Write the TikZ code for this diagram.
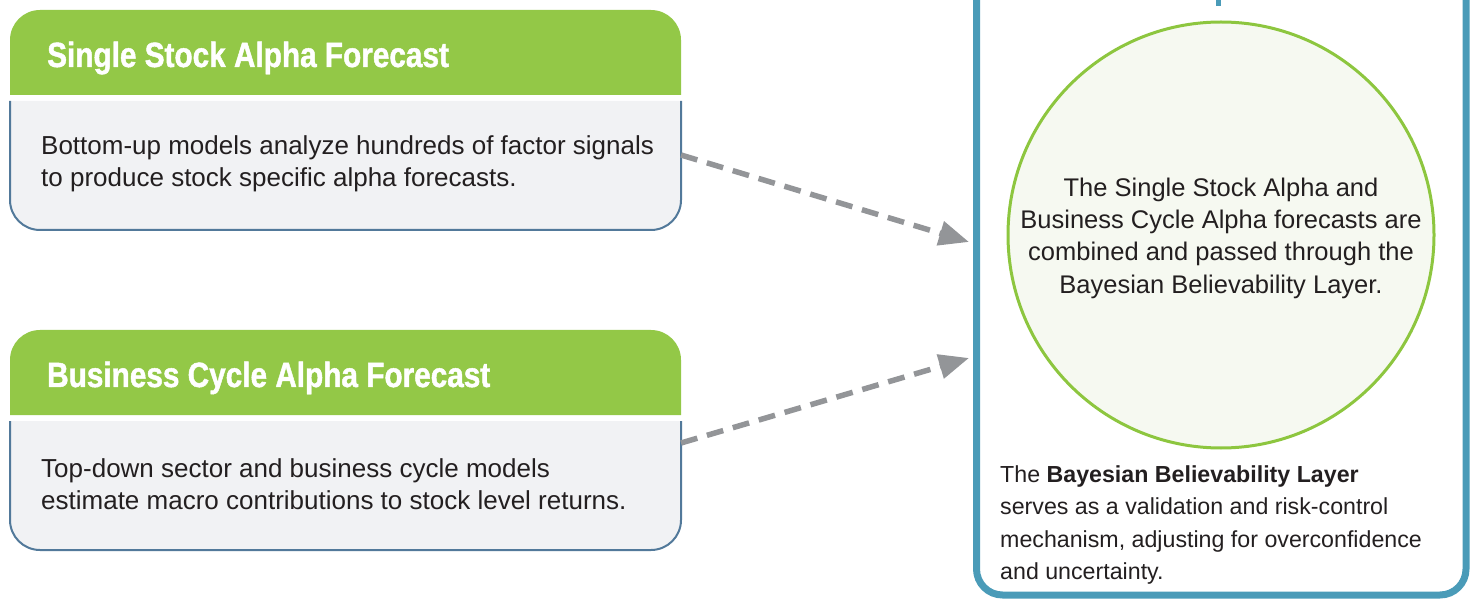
\documentclass[tikz,border=0pt]{standalone}
\usepackage{fontspec}
\setmainfont{Liberation Sans}
\newfontfamily\headfont[FakeStretch=0.85, BoldFeatures={FakeBold=1.3}]{Liberation Sans}
\usetikzlibrary{arrows.meta}

\definecolor{leafgreen}{HTML}{93C847}
\definecolor{ringgreen}{HTML}{8DC63F}
\definecolor{palegreen}{HTML}{F6F9F1}
\definecolor{panelgray}{HTML}{F1F2F4}
\definecolor{slateedge}{HTML}{52799A}
\definecolor{tealframe}{HTML}{4A9BB8}
\definecolor{arrowgray}{HTML}{939598}
\definecolor{inkdark}{HTML}{231F20}

\tikzstyle{headtext}=[anchor=base west, text=white, inner sep=0pt, font=\headfont\bfseries\fontsize{35}{40}\selectfont]
\tikzstyle{bodytext}=[anchor=west, align=left, text=inkdark, inner sep=0pt, font=\fontsize{26}{32}\selectfont]
\tikzstyle{flow}=[draw=arrowgray, line width=5.5pt, dash pattern=on 17pt off 10pt, ->]

\begin{document}
\begin{tikzpicture}[x=1pt, y=1pt, >={Triangle[length=30pt,width=24pt]}]
	\useasboundingbox (0,0) rectangle (1474,600);
	\foreach \name/\ytop/\heading/\blurb in {stock/590/Single Stock Alpha Forecast/{Bottom-up models analyze hundreds of factor signals\\to produce stock specific alpha forecasts.}, cycle/270/Business Cycle Alpha Forecast/{Top-down sector and business cycle models\\estimate macro contributions to stock level returns.}}
	{
	\fill[leafgreen, rounded corners=30pt] (10,\ytop-85) -- (10,\ytop) -- (681,\ytop) -- (681,\ytop-85);
	\filldraw[fill=panelgray, draw=slateedge, line width=2pt, rounded corners=30pt] (10,\ytop-91) -- (10,\ytop-220) -- (681,\ytop-220) -- (681,\ytop-91);
	\node[headtext] (head\name) at (47,\ytop-57) {\heading};
	\node[bodytext] (body\name) at (41,\ytop-154) {\blurb};
	}
	% right panel
	\draw[tealframe, line width=7pt, rounded corners=26pt] (976.5,620) -- (976.5,5) -- (1466,5) -- (1466,620);
	\fill[tealframe] (1215.5,594) rectangle (1220.5,601);
	\node[circle, draw=ringgreen, fill=palegreen, line width=3pt, minimum size=426pt, inner sep=0pt, align=center, text=inkdark, font=\fontsize{25.5}{32.3}\selectfont] (merge) at (1221,365) {};
	\node[align=center, text=inkdark, inner sep=0pt, font=\fontsize{25.5}{32.3}\selectfont] (mergetext) at ([yshift=-3pt]merge.center) {The Single Stock Alpha and\\Business Cycle Alpha forecasts are\\combined and passed through the\\Bayesian Believability Layer.};
	\node[anchor=west, align=left, text=inkdark, inner sep=0pt, font=\fontsize{23.2}{32.3}\selectfont] (note) at (1000,75) {The \textbf{Bayesian Believability Layer}\\serves as a validation and risk-control\\mechanism, adjusting for overconfidence\\and uncertainty.};
	\coordinate (outstock) at (681,445);
	\coordinate (outcycle) at (681,157);
	\coordinate (instock) at (969,358);
	\coordinate (incycle) at (969,242);
	\foreach \source/\dest in {outstock/instock, outcycle/incycle}
	\draw[flow] (\source) -- (\dest);
\end{tikzpicture}
\end{document}
